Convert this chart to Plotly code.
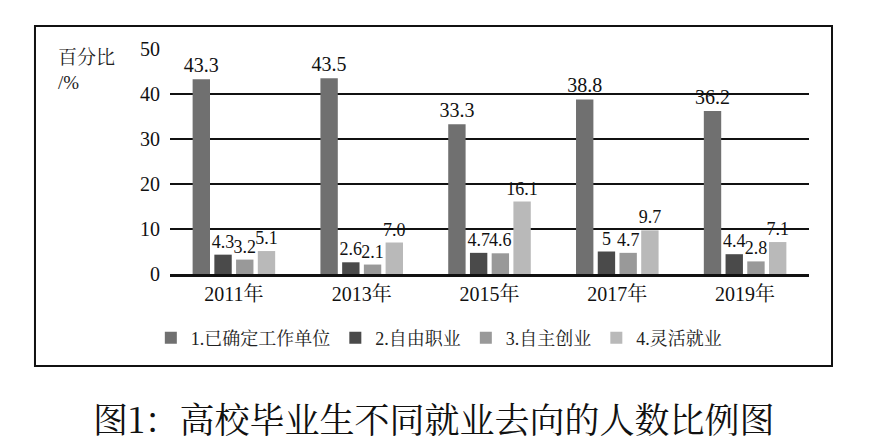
import plotly.graph_objects as go

years = ["2011年", "2013年", "2015年", "2017年", "2019年"]
series_names = ["1.已确定工作单位", "2.自由职业", "3.自主创业", "4.灵活就业"]
s1 = [43.3, 43.5, 33.3, 38.8, 36.2]
s2 = [4.3, 2.6, 4.7, 5, 4.4]
s3 = [3.2, 2.1, 4.6, 4.7, 2.8]
s4 = [5.1, 7.0, 16.1, 9.7, 7.1]
s1_text = ["43.3", "43.5", "33.3", "38.8", "36.2"]
s2_text = ["4.3", "2.6", "4.7", "5", "4.4"]
s3_text = ["3.2", "2.1", "4.6", "4.7", "2.8"]
s4_text = ["5.1", "7.0", "16.1", "9.7", "7.1"]
colors = ["#707070", "#4a4a4a", "#999999", "#b9b9b9"]
label_sizes = [20, 18, 18, 18]

FONT = "Liberation Serif, 'Noto Serif CJK SC', 'Noto Sans CJK SC', serif"

fig = go.Figure()
for name, vals, txt, c, fs in zip(series_names, [s1, s2, s3, s4],
                                  [s1_text, s2_text, s3_text, s4_text], colors, label_sizes):
    fig.add_trace(go.Bar(
        x=years, y=vals, name=name, text=txt,
        textposition="outside", cliponaxis=False, constraintext="none",
        textfont=dict(family=FONT, size=fs, color="#111"),
        marker=dict(color=c, line=dict(width=0)),
    ))

fig.update_layout(
    width=870, height=448,
    margin=dict(l=170, r=61, t=49, b=174),
    paper_bgcolor="white", plot_bgcolor="white",
    barmode="group", bargap=0.32, bargroupgap=0.2,
    font=dict(family=FONT, size=19, color="#111"),
    showlegend=True,
    legend=dict(orientation="h", x=-0.03, y=-0.285, xanchor="left", yanchor="middle",
                font=dict(family=FONT, size=18, color="#222"),
                itemwidth=30, tracegroupgap=0),
)
fig.update_xaxes(showgrid=False, showline=True, linecolor="#111", linewidth=2.5,
                 ticks="", tickfont=dict(family=FONT, size=20, color="#111"))
fig.update_yaxes(range=[0, 50], dtick=10, showgrid=True, gridcolor="#111", gridwidth=2,
                 zeroline=False, showline=False, ticks="",
                 tickfont=dict(family=FONT, size=20, color="#111"), ticklabelstandoff=9)

# y-axis title
fig.add_annotation(xref="paper", yref="paper", x=-0.178, y=1.02, xanchor="left", yanchor="top",
                   text="百分比<br>/%", showarrow=False, align="left",
                   font=dict(family=FONT, size=19, color="#222"))
# caption
fig.add_annotation(xref="paper", yref="paper", x=0.413, y=-0.64, xanchor="center", yanchor="middle",
                   text="图1：高校毕业生不同就业去向的人数比例图", showarrow=False,
                   font=dict(family="'Noto Serif CJK SC', 'Noto Sans CJK SC'", size=35, color="#111"))
# outer frame
fig.add_shape(type="rect", xref="paper", yref="paper", x0=-0.2113, x1=1.036, y0=-0.409, y1=1.102,
              line=dict(color="#111", width=2), fillcolor="rgba(0,0,0,0)", layer="below")

fig.write_html("out.html")
